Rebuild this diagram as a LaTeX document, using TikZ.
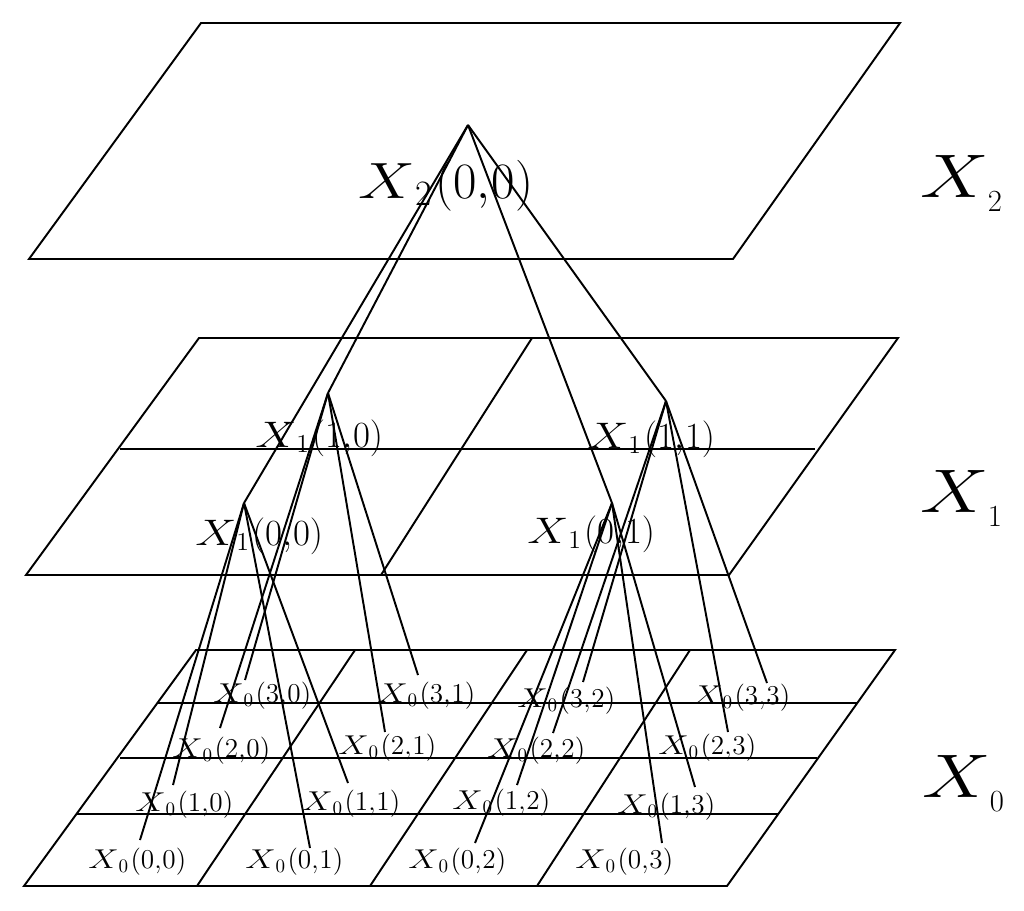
\documentclass[tikz,border=0pt]{standalone}
\usepackage{fix-cm}
\usepackage{amssymb}
\usepackage{amsmath}

\newcommand{\xlab}[3]{\scalebox{1.25}[1]{$X$}$_{#1}\mkern1mu(#2{,}\mkern.5mu#3)$}
\newcommand{\xlayer}[1]{\scalebox{1.25}[1]{$X$}\kern-.5pt\raisebox{-8.5pt}{$\scriptscriptstyle #1$}}
\tikzset{
  planeline/.style={line width=1.1pt},
  linkline/.style={line width=1.1pt},
  x0label/.style={anchor=base west, inner sep=0pt, font=\fontsize{15.5}{15.5}\selectfont},
  x1label/.style={anchor=base west, inner sep=0pt, font=\fontsize{21}{21}\selectfont},
  x2label/.style={anchor=base west, inner sep=0pt, font=\fontsize{29}{29}\selectfont},
  layerlabel/.style={anchor=base west, inner sep=0pt, font=\fontsize{35}{35}\selectfont}
}

\begin{document}
\begin{tikzpicture}[x=0.02cm, y=-0.02cm]
\useasboundingbox (0,0) rectangle (1024,910);

% planes
\draw[planeline] (201,23) -- (900,23) -- (733,259) -- (29,259) -- cycle;

\draw[planeline] (199,338) -- (898,338) -- (729,575) -- (26,575) -- cycle;
\draw[planeline] (120,449) -- (815,449);
\draw[planeline] (532,338) -- (381,575);

\draw[planeline] (196,650) -- (895,650) -- (727,886) -- (24,886) -- cycle;
\draw[planeline] (158,703) -- (858,703);
\draw[planeline] (120,758) -- (817,758);
\draw[planeline] (77,814) -- (778,814);
\draw[planeline] (355,650) -- (197,886);
\draw[planeline] (527,650) -- (370,886);
\draw[planeline] (690,650) -- (537,886);

% apexes
\coordinate (x2_0_0) at (468,125);
\coordinate (x1_1_0) at (328,393);
\coordinate (x1_1_1) at (666,401);
\coordinate (x1_0_0) at (244,503);
\coordinate (x1_0_1) at (612,503);

% line ends above the lowest labels
\coordinate (x0_0_0) at (140,840);
\coordinate (x0_0_1) at (310,848);
\coordinate (x0_0_2) at (475,843);
\coordinate (x0_0_3) at (662,843);
\coordinate (x0_1_0) at (173,785);
\coordinate (x0_1_1) at (348,783);
\coordinate (x0_1_2) at (517,785);
\coordinate (x0_1_3) at (695,787);
\coordinate (x0_2_0) at (220,728);
\coordinate (x0_2_1) at (385,732);
\coordinate (x0_2_2) at (553,733);
\coordinate (x0_2_3) at (728,732);
\coordinate (x0_3_0) at (245,680);
\coordinate (x0_3_1) at (418,675);
\coordinate (x0_3_2) at (583,682);
\coordinate (x0_3_3) at (767,683);

% links
\draw[linkline] (x2_0_0) -- (x1_1_0);
\draw[linkline] (x2_0_0) -- (x1_0_0);
\draw[linkline] (x2_0_0) -- (x1_0_1);
\draw[linkline] (x2_0_0) -- (x1_1_1);

\draw[linkline] (x1_0_0) -- (x0_0_0);
\draw[linkline] (x1_0_0) -- (x0_1_0);
\draw[linkline] (x1_0_0) -- (x0_0_1);
\draw[linkline] (x1_0_0) -- (x0_1_1);

\draw[linkline] (x1_1_0) -- (x0_2_0);
\draw[linkline] (x1_1_0) -- (x0_3_0);
\draw[linkline] (x1_1_0) -- (x0_2_1);
\draw[linkline] (x1_1_0) -- (x0_3_1);

\draw[linkline] (x1_0_1) -- (x0_0_2);
\draw[linkline] (x1_0_1) -- (x0_1_2);
\draw[linkline] (x1_0_1) -- (x0_0_3);
\draw[linkline] (x1_0_1) -- (x0_1_3);

\draw[linkline] (x1_1_1) -- (x0_2_2);
\draw[linkline] (x1_1_1) -- (x0_3_2);
\draw[linkline] (x1_1_1) -- (x0_2_3);
\draw[linkline] (x1_1_1) -- (x0_3_3);

% labels
\node[x2label] (x2_0_0_text) at (358,198) {\xlab{2}{0}{0}};

\node[x1label] (x1_1_0_text) at (255,447) {\xlab{1}{1}{0}};
\node[x1label] (x1_1_1_text) at (587,448) {\xlab{1}{1}{1}};
\node[x1label] (x1_0_0_text) at (195,545) {\xlab{1}{0}{0}};
\node[x1label] (x1_0_1_text) at (527,543) {\xlab{1}{0}{1}};

\node[x0label] (x0_3_0_text) at (213,702) {\xlab{0}{3}{0}};
\node[x0label] (x0_3_1_text) at (377,702) {\xlab{0}{3}{1}};
\node[x0label] (x0_3_2_text) at (517,707) {\xlab{0}{3}{2}};
\node[x0label] (x0_3_3_text) at (692,704) {\xlab{0}{3}{3}};
\node[x0label] (x0_2_0_text) at (172,757) {\xlab{0}{2}{0}};
\node[x0label] (x0_2_1_text) at (338,754) {\xlab{0}{2}{1}};
\node[x0label] (x0_2_2_text) at (487,757) {\xlab{0}{2}{2}};
\node[x0label] (x0_2_3_text) at (658,754) {\xlab{0}{2}{3}};
\node[x0label] (x0_1_0_text) at (135,811) {\xlab{0}{1}{0}};
\node[x0label] (x0_1_1_text) at (302,810) {\xlab{0}{1}{1}};
\node[x0label] (x0_1_2_text) at (452,809) {\xlab{0}{1}{2}};
\node[x0label] (x0_1_3_text) at (617,813) {\xlab{0}{1}{3}};
\node[x0label] (x0_0_0_text) at (88,868) {\xlab{0}{0}{0}};
\node[x0label] (x0_0_1_text) at (245,868) {\xlab{0}{0}{1}};
\node[x0label] (x0_0_2_text) at (408,868) {\xlab{0}{0}{2}};
\node[x0label] (x0_0_3_text) at (575,868) {\xlab{0}{0}{3}};

\node[layerlabel] (layer_2_text) at (920,197) {\xlayer{2}};
\node[layerlabel] (layer_1_text) at (920,512) {\xlayer{1}};
\node[layerlabel] (layer_0_text) at (922,797) {\xlayer{0}};

\end{tikzpicture}
\end{document}
